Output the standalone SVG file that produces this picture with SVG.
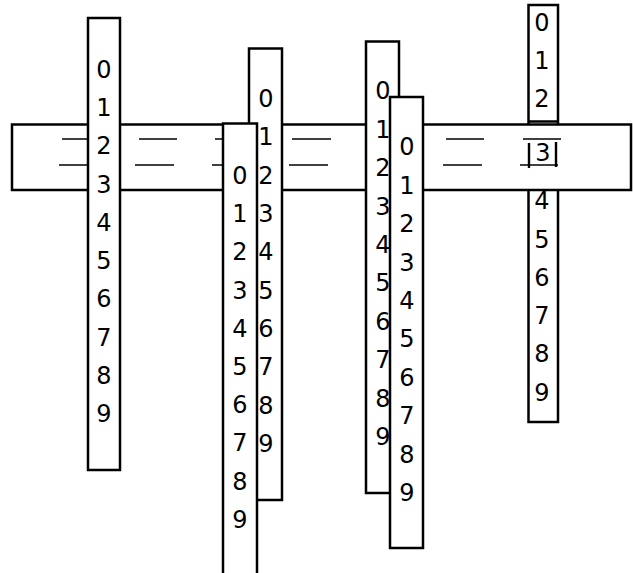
<svg xmlns="http://www.w3.org/2000/svg" width="633" height="573" viewBox="0 0 633 573">
<style>
.box{fill:#fff;stroke:#000;stroke-width:2.5}
.ln{stroke:#000;stroke-width:1.6;fill:none}
.d{font-family:"DejaVu Sans",sans-serif;font-size:24px;fill:#000;text-anchor:middle}
</style>
<rect width="633" height="573" fill="#fff"/>
<g id="strip6">
<rect class="box" x="528.5" y="5" width="29.5" height="417"/>
<text class="d" x="542" y="31">0</text>
<text class="d" x="542" y="69">1</text>
<text class="d" x="542" y="107">2</text>
<text class="d" x="542" y="209">4</text>
<text class="d" x="542" y="248">5</text>
<text class="d" x="542" y="286">6</text>
<text class="d" x="542" y="324">7</text>
<text class="d" x="542" y="362">8</text>
<text class="d" x="542" y="401">9</text>
<line class="ln" x1="528" y1="121.5" x2="558" y2="121.5" style="stroke-width:2.5"/>
</g>
<g id="bar">
<rect class="box" x="12" y="124.5" width="619" height="65.5"/>
<g class="ln">
<line x1="62" y1="139" x2="100" y2="139"/><line x1="59" y1="165" x2="97" y2="165"/>
<line x1="139" y1="139" x2="177" y2="139"/><line x1="135" y1="165" x2="174" y2="165"/>
<line x1="215" y1="139" x2="253" y2="139"/><line x1="212" y1="165" x2="250" y2="165"/>
<line x1="292" y1="139" x2="331" y2="139"/><line x1="289" y1="165" x2="328" y2="165"/>
<line x1="369" y1="139" x2="407" y2="139"/><line x1="366" y1="165" x2="404" y2="165"/>
<line x1="446" y1="139" x2="484" y2="139"/><line x1="443" y1="165" x2="482" y2="165"/>
<line x1="523" y1="139" x2="561" y2="139"/><line x1="520" y1="165" x2="558" y2="165"/>
<line x1="529" y1="143" x2="529" y2="168" style="stroke-width:2.4"/>
<line x1="556" y1="142" x2="556" y2="167" style="stroke-width:2.4"/>
</g>
<text class="d" x="543" y="161">3</text>
</g>
<g id="strip1">
<rect class="box" x="88" y="18" width="32" height="452"/>
<text class="d" x="104" y="78">0</text>
<text class="d" x="104" y="116">1</text>
<text class="d" x="104" y="154">2</text>
<text class="d" x="104" y="193">3</text>
<text class="d" x="104" y="231">4</text>
<text class="d" x="104" y="269">5</text>
<text class="d" x="104" y="307">6</text>
<text class="d" x="104" y="346">7</text>
<text class="d" x="104" y="384">8</text>
<text class="d" x="104" y="422">9</text>
</g>
<g id="strip2">
<rect class="box" x="249" y="48.5" width="33" height="451.5"/>
<text class="d" x="266" y="107">0</text>
<text class="d" x="266" y="145">1</text>
<text class="d" x="266" y="183.5">2</text>
<text class="d" x="266" y="221.5">3</text>
<text class="d" x="266" y="260">4</text>
<text class="d" x="266" y="298.5">5</text>
<text class="d" x="266" y="336.5">6</text>
<text class="d" x="266" y="375">7</text>
<text class="d" x="266" y="413.5">8</text>
<text class="d" x="266" y="451.5">9</text>
</g>
<g id="strip3">
<rect class="box" x="223" y="123.5" width="34" height="460"/>
<text class="d" x="240" y="184">0</text>
<text class="d" x="240" y="222">1</text>
<text class="d" x="240" y="260">2</text>
<text class="d" x="240" y="298.5">3</text>
<text class="d" x="240" y="336.5">4</text>
<text class="d" x="240" y="374.5">5</text>
<text class="d" x="240" y="413">6</text>
<text class="d" x="240" y="451">7</text>
<text class="d" x="240" y="489.5">8</text>
<text class="d" x="240" y="527.5">9</text>
</g>
<g id="strip4">
<rect class="box" x="366" y="41.5" width="33" height="451.5"/>
<text class="d" x="383" y="99">0</text>
<text class="d" x="383" y="137.5">1</text>
<text class="d" x="383" y="176">2</text>
<text class="d" x="383" y="214.5">3</text>
<text class="d" x="383" y="252.5">4</text>
<text class="d" x="383" y="291">5</text>
<text class="d" x="383" y="329.5">6</text>
<text class="d" x="383" y="368">7</text>
<text class="d" x="383" y="406.5">8</text>
<text class="d" x="383" y="445">9</text>
</g>
<g id="strip5">
<rect class="box" x="390" y="97" width="33" height="451"/>
<text class="d" x="407" y="155">0</text>
<text class="d" x="407" y="193.5">1</text>
<text class="d" x="407" y="232">2</text>
<text class="d" x="407" y="270.5">3</text>
<text class="d" x="407" y="308.5">4</text>
<text class="d" x="407" y="347">5</text>
<text class="d" x="407" y="385.5">6</text>
<text class="d" x="407" y="424">7</text>
<text class="d" x="407" y="462.5">8</text>
<text class="d" x="407" y="501">9</text>
</g>
</svg>
